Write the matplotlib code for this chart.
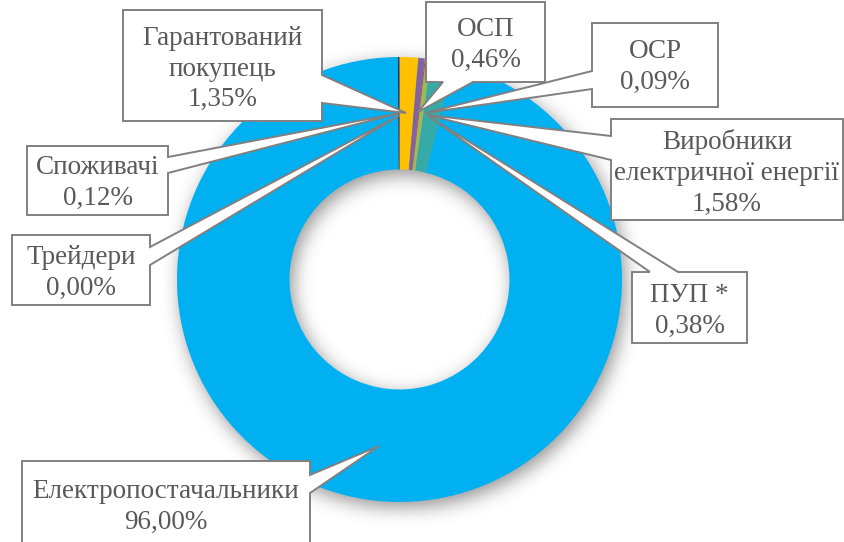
import matplotlib.pyplot as plt
import numpy as np
from matplotlib.patches import Polygon

# Частки учасників ринку (за годинниковою стрілкою від 12 години)
categories = ["Гарантований\nпокупець", "ОСП", "ОСР", "ПУП *",
              "Виробники\nелектричної енергії", "Електропостачальники",
              "Споживачі", "Трейдери"]
shares = [1.35, 0.46, 0.09, 0.38, 1.58, 96.00, 0.12, 0.00]
colors = ["#FFC000", "#8064A2", "#C0504D", "#9BBB59",
          "#36AAA6", "#00B0F0", "#1F3864", "#2E75B6"]

W, H = 844, 542
cx, cy = 399.5, 279.5          # центр кільця (пікселі, y донизу)
R_out, ring_w = 222.5, 112.5

# Виноски: рамка (x0, y0, x1, y1), сторона хвоста, основа хвоста, вістря
callouts = {
    "Гарантований\nпокупець": ((123, 10, 322, 121), "right", (75, 103), (406, 113)),
    "ОСП": ((426, 2, 545, 82), "bottom", (443, 473), (418, 112)),
    "ОСР": ((592, 23, 718, 107), "left", (71, 89), (425, 113)),
    "Виробники\nелектричної енергії": ((611, 119, 843, 220), "left", (136, 160), (427, 115)),
    "ПУП *": ((632, 272, 747, 343), "top", (650, 678), (428, 116)),
    "Електропостачальники": ((22, 461, 310, 560), "right", (475, 493), (379, 446)),
    "Споживачі": ((27, 146, 168, 215), "right", (157, 173), (400, 113)),
    "Трейдери": ((12, 235, 150, 305), "right", (247, 265), (400, 115)),
}
text_y = {"Гарантований\nпокупець": 69, "ОСП": 45, "ОСР": 67,
          "Виробники\nелектричної енергії": 173, "ПУП *": 311,
          "Електропостачальники": 507, "Споживачі": 183, "Трейдери": 273}


def flip(p):
    return (p[0], H - p[1])


def callout_shape(box, side, base, tip):
    x0, y0, x1, y1 = box
    b0, b1 = base
    pts = [(x0, y0)]
    if side == "top":
        pts += [(b0, y0), tip, (b1, y0)]
    pts.append((x1, y0))
    if side == "right":
        pts += [(x1, b0), tip, (x1, b1)]
    pts.append((x1, y1))
    if side == "bottom":
        pts += [(b1, y1), tip, (b0, y1)]
    pts.append((x0, y1))
    if side == "left":
        pts += [(x0, b1), tip, (x0, b0)]
    return [flip(p) for p in pts]


def gauss_blur(img, sigma):
    r = int(3 * sigma)
    k = np.exp(-0.5 * (np.arange(-r, r + 1) / sigma) ** 2)
    k /= k.sum()
    img = np.apply_along_axis(lambda m: np.convolve(m, k, mode="same"), 0, img)
    img = np.apply_along_axis(lambda m: np.convolve(m, k, mode="same"), 1, img)
    return img


fig = plt.figure(figsize=(W / 100, H / 100), dpi=100)
ax = fig.add_axes([0, 0, 1, 1])

# м'яка тінь під кільцем
yy, xx = np.mgrid[0:H, 0:W]
d = np.hypot(xx - cx - 3, yy - cy - 5)
ring = ((d <= R_out) & (d >= R_out - ring_w)).astype(float)
shadow = gauss_blur(ring, 9)
rgba = np.zeros((H, W, 4))
rgba[..., :3] = 0.3
rgba[..., 3] = shadow * 0.6
ax.imshow(rgba, extent=(0, W, 0, H), origin="upper", zorder=0,
          interpolation="bilinear")

ax.pie(shares, colors=colors, startangle=90, counterclock=False,
       radius=R_out, center=(cx, H - cy),
       wedgeprops=dict(width=ring_w, linewidth=0))

for name, val in zip(categories, shares):
    box, side, base, tip = callouts[name]
    ax.add_patch(Polygon(callout_shape(box, side, base, tip), closed=True,
                         facecolor="white", edgecolor="#808080",
                         linewidth=1.4, zorder=5))
    label = name + "\n" + f"{val:.2f}".replace(".", ",") + "%"
    x0, y0, x1, y1 = box
    ax.text((x0 + x1) / 2, H - text_y[name], label, ha="center", va="center",
            fontsize=19.5, family="Liberation Serif", color="#595959",
            linespacing=1.3, zorder=6)

ax.set_xlim(0, W)
ax.set_ylim(0, H)
ax.set_aspect("equal")
ax.axis("off")

plt.savefig("out.png", dpi=100)
